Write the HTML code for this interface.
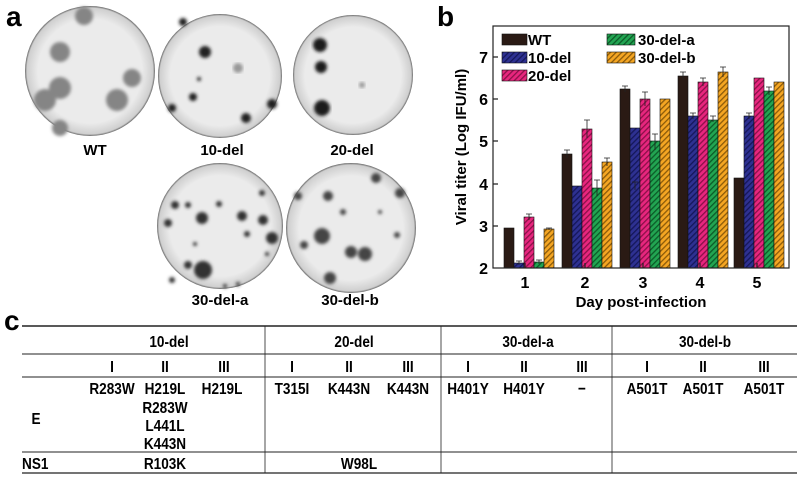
<!DOCTYPE html>
<html><head><style>body{margin:0;background:#fff}svg{display:block}</style></head><body>
<svg width="800" height="479" viewBox="0 0 800 479" xmlns="http://www.w3.org/2000/svg" font-family="Liberation Sans, Arial, sans-serif">
<defs>
<pattern id="hb" width="4" height="4" patternUnits="userSpaceOnUse" patternTransform="rotate(45)"><rect width="4" height="4" fill="#2e3192"/><rect width="1.3" height="4" fill="#15175a"/></pattern>
<pattern id="hp" width="4" height="4" patternUnits="userSpaceOnUse" patternTransform="rotate(45)"><rect width="4" height="4" fill="#e8267e"/><rect width="1.3" height="4" fill="#8a1048"/></pattern>
<pattern id="hg" width="4" height="4" patternUnits="userSpaceOnUse" patternTransform="rotate(45)"><rect width="4" height="4" fill="#22a552"/><rect width="1.3" height="4" fill="#0c5a28"/></pattern>
<pattern id="ho" width="4" height="4" patternUnits="userSpaceOnUse" patternTransform="rotate(45)"><rect width="4" height="4" fill="#f5a623"/><rect width="1.3" height="4" fill="#8a5a0a"/></pattern>
<filter id="bl"><feGaussianBlur stdDeviation="1.5"/></filter>
<radialGradient id="dish" cx="50%" cy="50%" r="50%"><stop offset="80%" stop-color="#ebebeb"/><stop offset="97%" stop-color="#cfcfcf"/><stop offset="100%" stop-color="#666"/></radialGradient>
</defs>

<!-- Panel a -->
<text x="6" y="26" font-size="28" font-weight="bold">a</text>
<g>
<circle cx="90" cy="71" r="65" fill="url(#dish)"/>
<g fill="#858585" filter="url(#bl)">
<circle cx="60" cy="52" r="10"/><circle cx="60" cy="88" r="11"/><circle cx="117" cy="100" r="11"/><circle cx="132" cy="78" r="9"/><circle cx="45" cy="100" r="11"/><circle cx="84" cy="16" r="9"/><circle cx="60" cy="128" r="8"/>
</g>
<circle cx="220" cy="76" r="62" fill="url(#dish)"/>
<g fill="#222" filter="url(#bl)">
<circle cx="205" cy="52" r="6"/><circle cx="193" cy="97" r="4"/><circle cx="172" cy="108" r="4"/><circle cx="246" cy="118" r="5"/><circle cx="272" cy="104" r="5"/><circle cx="199" cy="79" r="2"/><circle cx="183" cy="22" r="4"/>
</g><circle cx="238" cy="68" r="5" fill="#999" filter="url(#bl)"/>
<circle cx="353" cy="75" r="60" fill="url(#dish)"/>
<g fill="#1a1a1a" filter="url(#bl)">
<circle cx="320" cy="45" r="7"/><circle cx="321" cy="67" r="6"/><circle cx="322" cy="108" r="8"/>
</g><circle cx="362" cy="85" r="3" fill="#999" filter="url(#bl)"/>
<circle cx="220" cy="226" r="63" fill="url(#dish)"/>
<g fill="#333" filter="url(#bl)">
<circle cx="175" cy="205" r="4"/><circle cx="188" cy="205" r="3"/><circle cx="202" cy="218" r="6"/><circle cx="242" cy="216" r="5"/><circle cx="263" cy="220" r="5"/><circle cx="272" cy="238" r="6"/><circle cx="247" cy="234" r="3"/><circle cx="168" cy="223" r="4"/><circle cx="203" cy="270" r="9"/><circle cx="188" cy="265" r="4"/><circle cx="172" cy="280" r="3"/><circle cx="219" cy="204" r="3"/><circle cx="195" cy="244" r="2"/><circle cx="267" cy="254" r="2"/><circle cx="225" cy="286" r="2"/><circle cx="238" cy="284" r="2"/><circle cx="262" cy="193" r="3"/>
</g>
<circle cx="351" cy="228" r="65" fill="url(#dish)"/>
<g fill="#444" filter="url(#bl)">
<circle cx="328" cy="196" r="5"/><circle cx="322" cy="236" r="8"/><circle cx="351" cy="252" r="6"/><circle cx="365" cy="254" r="7"/><circle cx="376" cy="178" r="5"/><circle cx="400" cy="193" r="5"/><circle cx="330" cy="278" r="6"/><circle cx="397" cy="235" r="3"/><circle cx="304" cy="245" r="4"/><circle cx="343" cy="212" r="3"/><circle cx="380" cy="212" r="2"/><circle cx="298" cy="196" r="4"/>
</g>
</g>
<g font-size="15" font-weight="bold" text-anchor="middle">
<text x="95" y="155">WT</text><text x="222" y="155">10-del</text><text x="352" y="155">20-del</text>
<text x="220" y="305">30-del-a</text><text x="350" y="305">30-del-b</text>
</g>

<!-- Panel b -->
<text x="437" y="26" font-size="28" font-weight="bold">b</text>
<g>
<g stroke="#111" stroke-width="0.6">
<rect x="504" y="228" width="10" height="40" fill="#2a1a14"/>
<rect x="514" y="263" width="10" height="5" fill="url(#hb)"/>
<rect x="524" y="217" width="10" height="51" fill="url(#hp)"/>
<rect x="534" y="262" width="10" height="6" fill="url(#hg)"/>
<rect x="544" y="229" width="10" height="39" fill="url(#ho)"/>

<rect x="562" y="154" width="10" height="114" fill="#2a1a14"/>
<rect x="572" y="186" width="10" height="82" fill="url(#hb)"/>
<rect x="582" y="129" width="10" height="139" fill="url(#hp)"/>
<rect x="592" y="188" width="10" height="80" fill="url(#hg)"/>
<rect x="602" y="162" width="10" height="106" fill="url(#ho)"/>

<rect x="620" y="89" width="10" height="179" fill="#2a1a14"/>
<rect x="630" y="128" width="10" height="140" fill="url(#hb)"/>
<rect x="640" y="99" width="10" height="169" fill="url(#hp)"/>
<rect x="650" y="141" width="10" height="127" fill="url(#hg)"/>
<rect x="660" y="99" width="10" height="169" fill="url(#ho)"/>

<rect x="678" y="76" width="10" height="192" fill="#2a1a14"/>
<rect x="688" y="116" width="10" height="152" fill="url(#hb)"/>
<rect x="698" y="82" width="10" height="186" fill="url(#hp)"/>
<rect x="708" y="120" width="10" height="148" fill="url(#hg)"/>
<rect x="718" y="72" width="10" height="196" fill="url(#ho)"/>

<rect x="734" y="178" width="10" height="90" fill="#2a1a14"/>
<rect x="744" y="116" width="10" height="152" fill="url(#hb)"/>
<rect x="754" y="78" width="10" height="190" fill="url(#hp)"/>
<rect x="764" y="91" width="10" height="177" fill="url(#hg)"/>
<rect x="774" y="82" width="10" height="186" fill="url(#ho)"/>
</g>
<g stroke="#222" stroke-width="0.8" fill="none">
<path d="M567 150v8M564 150h6M587 120v18M584 120h6M597 180v16M594 180h6M607 158v8M604 158h6M635 182v8M632 182h6M655 134v16M652 134h6M645 92v14M642 92h6M625 86v6M622 86h6M683 72v8M680 72h6M693 113v6M690 113h6M703 78v8M700 78h6M713 116v6M710 116h6M723 67v10M720 67h6M749 113v6M746 113h6M769 87v8M766 87h6M529 214v6M526 214h6M519 261v4M516 261h6M539 260v4M536 260h6M549 228v2M546 228h6"/>
</g>
<rect x="493" y="26" width="296" height="242" fill="none" stroke="#222" stroke-width="1.2"/>
<g stroke="#222" stroke-width="1.2">
<path d="M493 57h5M493 99h5M493 141h5M493 184h5M493 226h5M525 268v-5M585 268v-5M643 268v-5M700 268v-5M757 268v-5"/>
</g>
<g font-size="16" font-weight="bold" text-anchor="end">
<text x="488" y="63">7</text><text x="488" y="105">6</text><text x="488" y="147">5</text><text x="488" y="190">4</text><text x="488" y="232">3</text><text x="488" y="274">2</text>
</g>
<g font-size="16" font-weight="bold" text-anchor="middle">
<text x="525" y="288">1</text><text x="585" y="288">2</text><text x="643" y="288">3</text><text x="700" y="288">4</text><text x="757" y="288">5</text>
<text x="641" y="307" font-size="15">Day post-infection</text>
<text transform="translate(466,147) rotate(-90)" font-size="15">Viral titer (Log IFU/ml)</text>
</g>
<g stroke="#111" stroke-width="0.6">
<rect x="502" y="34" width="25" height="11" fill="#2a1a14"/>
<rect x="502" y="52" width="25" height="11" fill="url(#hb)"/>
<rect x="502" y="70" width="25" height="11" fill="url(#hp)"/>
<rect x="607" y="34" width="28" height="11" fill="url(#hg)"/>
<rect x="607" y="52" width="28" height="11" fill="url(#ho)"/>
</g>
<g font-size="15" font-weight="bold">
<text x="528" y="45">WT</text><text x="528" y="63">10-del</text><text x="528" y="81">20-del</text>
<text x="638" y="45">30-del-a</text><text x="638" y="63">30-del-b</text>
</g>
</g>

<!-- Panel c -->
<text x="4" y="330" font-size="28" font-weight="bold">c</text>
<g stroke="#222">
<path d="M22 326H797" stroke-width="1.5"/>
<path d="M22 354H797M22 377H797M22 452H797" stroke-width="1"/>
<path d="M22 473H797" stroke-width="1.2"/>
<path d="M265 326V473M441 326V473M612 326V473" stroke-width="0.8"/>
</g>
<g transform="scale(0.85,1)" font-size="16" font-weight="bold" text-anchor="middle">
<text x="198.8" y="347">10-del</text><text x="416.5" y="347">20-del</text><text x="621.2" y="347">30-del-a</text><text x="829.4" y="347">30-del-b</text>
<text x="131.8" y="372">I</text><text x="194.1" y="372">II</text><text x="263.5" y="372">III</text>
<text x="343.5" y="372">I</text><text x="410.6" y="372">II</text><text x="480" y="372">III</text>
<text x="550.6" y="372">I</text><text x="616.5" y="372">II</text><text x="684.7" y="372">III</text>
<text x="761.2" y="372">I</text><text x="827.1" y="372">II</text><text x="898.8" y="372">III</text>
<text x="131.8" y="394">R283W</text><text x="194.1" y="394">H219L</text><text x="261.2" y="394">H219L</text>
<text x="194.1" y="413">R283W</text><text x="194.1" y="431">L441L</text><text x="194.1" y="449">K443N</text>
<text x="343.5" y="394">T315I</text><text x="410.6" y="394">K443N</text><text x="480" y="394">K443N</text>
<text x="550.6" y="394">H401Y</text><text x="616.5" y="394">H401Y</text><text x="684.7" y="394">−</text>
<text x="761.2" y="394">A501T</text><text x="827.1" y="394">A501T</text><text x="898.8" y="394">A501T</text>
<text x="42.4" y="424">E</text>
<text x="25.9" y="469" text-anchor="start">NS1</text><text x="194.1" y="469">R103K</text><text x="422.4" y="469">W98L</text>
</g>
</svg>
</body></html>
